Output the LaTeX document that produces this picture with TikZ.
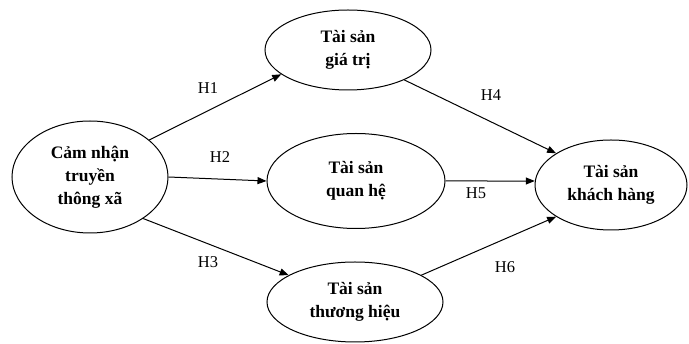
\documentclass[tikz,border=0pt]{standalone}
\usepackage{fontspec}
\setmainfont{Liberation Serif}
\usetikzlibrary{shapes.geometric,arrows.meta}
\begin{document}
\begin{tikzpicture}[x=1pt,y=-1pt,
  construct/.style={draw,line width=1pt,ellipse,inner sep=0pt,align=center,
    font=\fontsize{17.5}{23}\selectfont\bfseries},
  link/.style={draw,line width=1pt,-{Triangle[length=9pt,width=7pt]}},
  hlabel/.style={font=\fontsize{16.5}{18}\selectfont}]
\useasboundingbox (0,0) rectangle (689,344);
\node[construct,minimum width=156pt,minimum height=112pt] (cn) at (90,177) {Cảm nhận\\truyền\\thông xã};
\node[construct,minimum width=166pt,minimum height=80pt] (gt) at (348,50) {Tài sản\\giá trị};
\node[construct,minimum width=178pt,minimum height=95pt] (qh) at (356,181) {Tài sản\\quan hệ};
\node[construct,minimum width=176pt,minimum height=80pt] (th) at (355,302) {Tài sản\\thương hiệu};
\node[construct,minimum width=152pt,minimum height=90pt] (kh) at (611,185) {Tài sản\\khách hàng};
\draw[link] (cn.32) -- (gt.200);
\draw[link] (cn.east) -- (qh.west);
\draw[link] (cn.-38) -- (th.158);
\draw[link] (gt.-28) -- (kh.150);
\draw[link] (qh.east) -- (kh.177);
\draw[link] (th.22) -- (kh.-150);
\node[hlabel] (l1) at (208,88) {H1};
\node[hlabel] (l2) at (220,157) {H2};
\node[hlabel] (l3) at (208,262) {H3};
\node[hlabel] (l4) at (491,95) {H4};
\node[hlabel] (l5) at (476,193) {H5};
\node[hlabel] (l6) at (505,267) {H6};
\end{tikzpicture}
\end{document}
